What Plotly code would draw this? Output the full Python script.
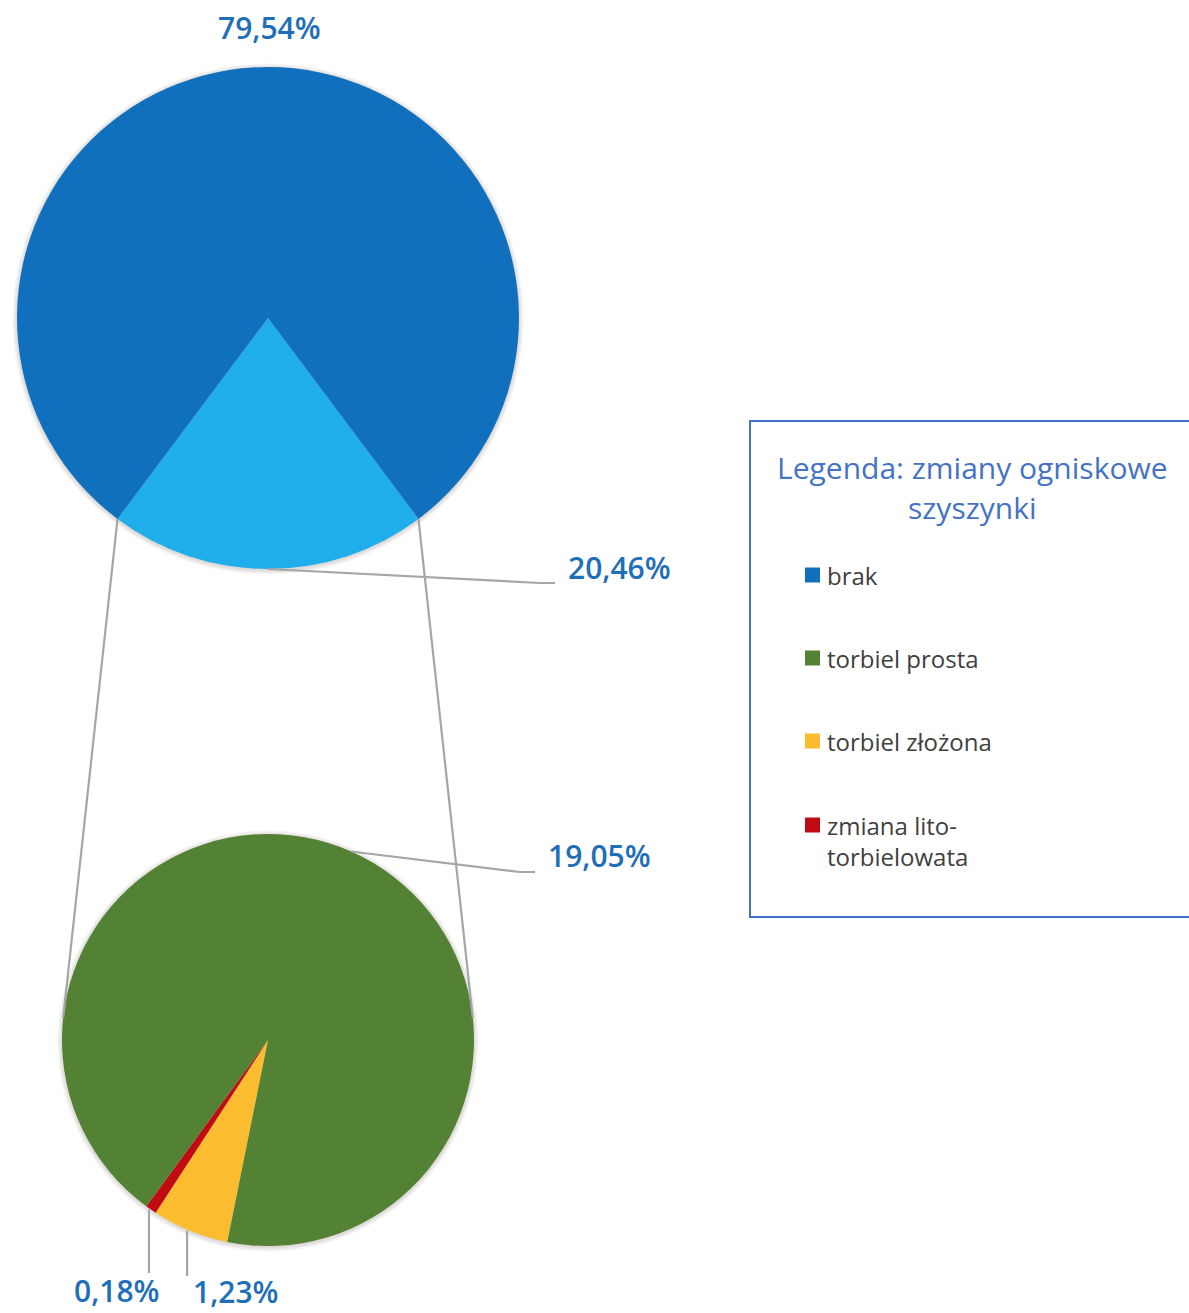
import math
import plotly.graph_objects as go

# ---- data -------------------------------------------------------------
main_labels = ["zmiany ogniskowe", "brak"]
main_values = [20.46, 79.54]
main_colors = ["#1FAEE9", "#1070BD"]

sub_labels = ["torbiel złożona", "zmiana lito-torbielowata", "torbiel prosta"]
sub_values = [1.23, 0.18, 19.05]
sub_colors = ["#FBBC2F", "#C00B12", "#548235"]

legend_title = ["Legenda: zmiany ogniskowe", "szyszynki"]
legend_labels = ["brak", "torbiel prosta", "torbiel złożona", "zmiana lito-<br>torbielowata"]
legend_colors = ["#1070BD", "#548235", "#FBBC2F", "#C00B12"]

# ---- layout constants (pixels) ---------------------------------------
W, H = 1189, 1313
FONT = "Open Sans"
LABEL_COLOR = "#1F6FB8"
LINE_COLOR = "#A6A6A6"

main_c, main_r = (268, 318), 251
sub_c, sub_r = (268, 1040), 206
sub_rotation = 191.4


def px(x):
    return x / W


def py(y):
    return 1 - y / H


def domain(c, r):
    return dict(x=[px(c[0] - r), px(c[0] + r)], y=[py(c[1] + r), py(c[1] - r)])


def edge(c, r, ang):
    a = math.radians(ang)
    return (c[0] + r * math.sin(a), c[1] - r * math.cos(a))


def fmt(v):
    return f"{v:.2f}".replace(".", ",") + "%"


# the highlighted slice of the main pie is centred at 6 o'clock
main_total = sum(main_values)
main_span = 360 * main_values[0] / main_total
main_rotation = 180 - main_span / 2

fig = go.Figure()
fig.add_trace(go.Pie(
    labels=main_labels, values=main_values, sort=False, direction="clockwise",
    rotation=main_rotation, marker=dict(colors=main_colors, line=dict(width=0)),
    textinfo="none", domain=domain(main_c, main_r), showlegend=False,
))
fig.add_trace(go.Pie(
    labels=sub_labels, values=sub_values, sort=False, direction="clockwise",
    rotation=sub_rotation, marker=dict(colors=sub_colors, line=dict(width=0)),
    textinfo="none", domain=domain(sub_c, sub_r), showlegend=False,
))

shapes = []
annotations = []

# soft drop shadow under both pies
for c, r in [(main_c, main_r), (sub_c, sub_r)]:
    for k in range(1, 6):
        shapes.append(dict(type="circle", xref="paper", yref="paper", layer="below",
                           x0=px(c[0] - r - k + 0.5), x1=px(c[0] + r + k - 0.5),
                           y0=py(c[1] + r + k + 0.5), y1=py(c[1] - r - k + 1.5),
                           line=dict(width=0), fillcolor="rgba(90,80,70,0.045)"))


def seg(points, color=LINE_COLOR, width=2.2):
    path = "M " + " L ".join(f"{px(x)},{py(y)}" for x, y in points)
    shapes.append(dict(type="path", xref="paper", yref="paper", path=path,
                       line=dict(color=color, width=width)))


def tangent_point(p, c, r, side):
    dx, dy = p[0] - c[0], p[1] - c[1]
    d = math.hypot(dx, dy)
    base = math.atan2(dy, dx)
    off = math.acos(r / d)
    a = base + side * off
    return (c[0] + r * math.cos(a), c[1] + r * math.sin(a))


# connector lines between the highlighted wedge and the secondary pie
p_left = edge(main_c, main_r, main_rotation + main_span)
p_right = edge(main_c, main_r, main_rotation)
seg([p_left, tangent_point(p_left, sub_c, sub_r, -1)])
seg([p_right, tangent_point(p_right, sub_c, sub_r, 1)])

# data labels
annotations.append(dict(x=px(main_c[0] + 1), y=py(28), text=fmt(main_values[1]),
                        xanchor="center", yanchor="middle"))

p = edge(main_c, main_r, main_rotation + main_span / 2)
seg([p, (540, 583), (555, 583)])
annotations.append(dict(x=px(567), y=py(567), text=fmt(main_values[0]),
                        xanchor="left", yanchor="middle"))

sub_total = sum(sub_values)
angles = []
a0 = sub_rotation
for v in sub_values:
    span = 360 * v / sub_total
    angles.append(a0 + span / 2)
    a0 += span

# torbiel prosta
p = edge(sub_c, sub_r, angles[2])
seg([p, (520, 872), (535, 872)])
annotations.append(dict(x=px(547), y=py(855), text=fmt(sub_values[2]),
                        xanchor="left", yanchor="middle"))

# zmiana lito-torbielowata
p = edge(sub_c, sub_r, angles[1])
seg([(p[0] - 2, p[1]), (p[0] - 2, 1273)])
annotations.append(dict(x=px(117), y=py(1290), text=fmt(sub_values[1]),
                        xanchor="center", yanchor="middle"))

# torbiel złożona
p = edge(sub_c, sub_r, angles[0])
seg([(p[0] - 3, p[1]), (p[0] - 3, 1276)])
annotations.append(dict(x=px(236), y=py(1291), text=fmt(sub_values[0]),
                        xanchor="center", yanchor="middle"))

for a in annotations:
    a.update(xref="paper", yref="paper", showarrow=False, borderpad=0,
             font=dict(family=FONT, size=30, color=LABEL_COLOR, weight=600))

# legend box
shapes.append(dict(type="rect", xref="paper", yref="paper",
                   x0=px(750), x1=px(1200), y0=py(917), y1=py(421),
                   line=dict(color="#4472C4", width=2), fillcolor="rgba(0,0,0,0)"))

for text, y in zip(legend_title, [467, 508]):
    annotations.append(dict(xref="paper", yref="paper", x=px(972), y=py(y), text=text,
                            showarrow=False, xanchor="center", yanchor="middle",
                            font=dict(family=FONT, size=30, color="#4472C4")))

row_y = [575, 658, 741, 825]
for text, color, y in zip(legend_labels, legend_colors, row_y):
    shapes.append(dict(type="rect", xref="paper", yref="paper",
                       x0=px(805), x1=px(820), y0=py(y + 7.5), y1=py(y - 7.5),
                       line=dict(width=0), fillcolor=color))
    annotations.append(dict(xref="paper", yref="paper", x=px(825), y=py(y - 18),
                            text=text, showarrow=False, xanchor="left", yanchor="top",
                            align="left",
                            font=dict(family=FONT, size=24, color="#404040")))

fig.update_layout(
    width=W, height=H,
    margin=dict(l=0, r=0, t=0, b=0),
    paper_bgcolor="white", plot_bgcolor="white",
    shapes=shapes, annotations=annotations,
    showlegend=False,
)

fig.write_html("out.html")
